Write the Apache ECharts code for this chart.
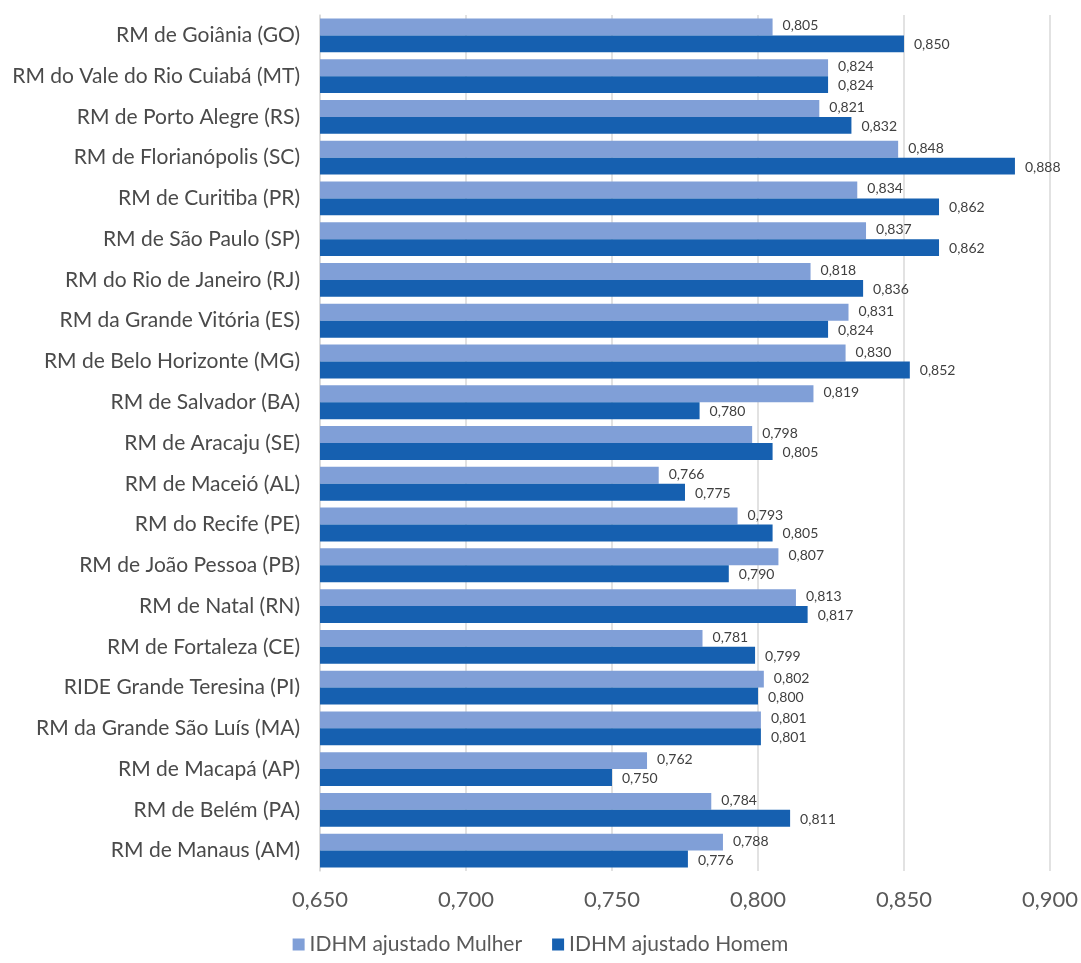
<!DOCTYPE html>
<html>
<head>
<meta charset="utf-8">
<script src="https://cdn.jsdelivr.net/npm/echarts@6/dist/echarts.min.js"></script>
<style>
html,body{margin:0;padding:0;background:#fff;}
#chart{width:1081px;height:963px;}
</style>
</head>
<body>
<div id="chart"></div>
<script>
const categories = [
  "RM de Goiânia (GO)",
  "RM do Vale do Rio Cuiabá (MT)",
  "RM de Porto Alegre (RS)",
  "RM de Florianópolis (SC)",
  "RM de Curitiba (PR)",
  "RM de São Paulo (SP)",
  "RM do Rio de Janeiro (RJ)",
  "RM da Grande Vitória (ES)",
  "RM de Belo Horizonte (MG)",
  "RM de Salvador (BA)",
  "RM de Aracaju (SE)",
  "RM de Maceió (AL)",
  "RM do Recife (PE)",
  "RM de João Pessoa (PB)",
  "RM de Natal (RN)",
  "RM de Fortaleza (CE)",
  "RIDE Grande Teresina (PI)",
  "RM da Grande São Luís (MA)",
  "RM de Macapá (AP)",
  "RM de Belém (PA)",
  "RM de Manaus (AM)"
];
const mulher = [0.805,0.824,0.821,0.848,0.834,0.837,0.818,0.831,0.830,0.819,0.798,0.766,0.793,0.807,0.813,0.781,0.802,0.801,0.762,0.784,0.788];
const homem  = [0.850,0.824,0.832,0.888,0.862,0.862,0.836,0.824,0.852,0.780,0.805,0.775,0.805,0.790,0.817,0.799,0.800,0.801,0.750,0.811,0.776];
const seriesNames = ["IDHM ajustado Mulher","IDHM ajustado Homem"];
const axisMin = 0.65, axisMax = 0.90, axisStep = 0.05;

const fmt = v => v.toFixed(3).replace('.', ',');
const FONT = 'Lato, "Open Sans", sans-serif';

const chart = echarts.init(document.getElementById('chart'));
chart.setOption({
  animation:false,
  backgroundColor:'#ffffff',
  grid:{left:320,right:26,top:15,bottom:92,containLabel:false},
  legend:{
    bottom:3,left:'center',
    itemWidth:12,itemHeight:12,itemGap:30,
    icon:'rect',
    textStyle:{fontFamily:FONT,fontSize:21,color:'#595959'},
    data:seriesNames
  },
  xAxis:{
    type:'value',min:axisMin,max:axisMax,interval:axisStep,
    axisLine:{show:false},axisTick:{show:false},
    splitLine:{show:true,lineStyle:{color:'#d9d9d9',width:1.5}},
    axisLabel:{formatter:v=>fmt(v),fontFamily:FONT,fontSize:22,color:'#595959',margin:18}
  },
  yAxis:{
    type:'category',data:categories,inverse:true,
    axisLine:{show:true,lineStyle:{color:'#d9d9d9',width:1.5}},
    axisTick:{show:false},
    axisLabel:{fontFamily:FONT,fontSize:21,color:'#4a4a4a',margin:20}
  },
  series:[
    {
      name:seriesNames[0],type:'bar',data:mulher,
      barGap:'0%',barCategoryGap:'17%',
      itemStyle:{color:'#809fd7'},
      label:{show:true,position:'right',distance:10,formatter:p=>fmt(p.value),
        fontFamily:FONT,fontSize:14,color:'#404040',offset:[0,-1]}
    },
    {
      name:seriesNames[1],type:'bar',data:homem,
      barGap:'0%',barCategoryGap:'17%',
      itemStyle:{color:'#1660b0'},
      label:{show:true,position:'right',distance:10,formatter:p=>fmt(p.value),
        fontFamily:FONT,fontSize:14,color:'#404040',offset:[0,1]}
    }
  ]
});
</script>
</body>
</html>
